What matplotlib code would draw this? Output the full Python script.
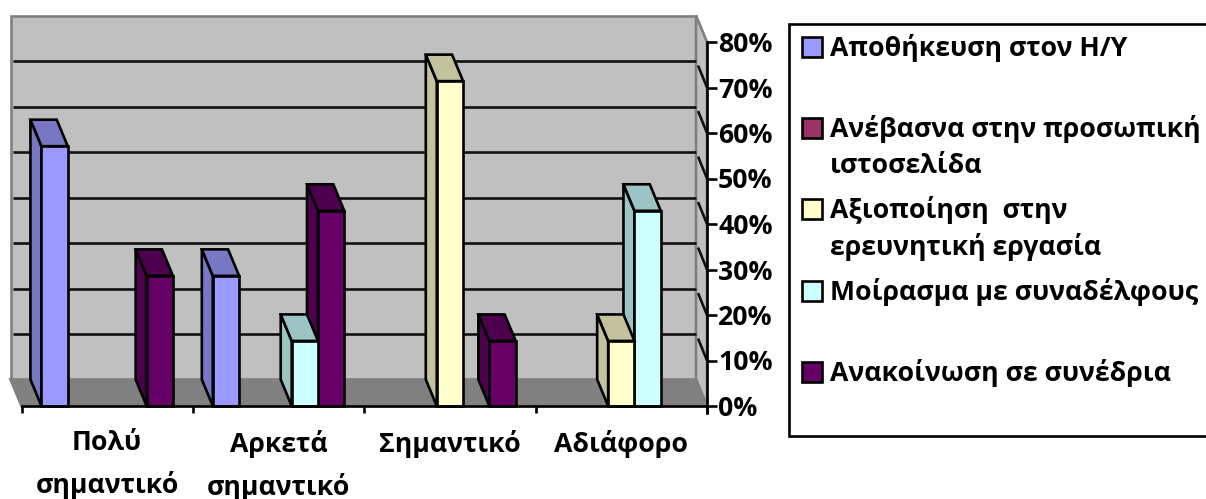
import matplotlib
matplotlib.use("Agg")
import matplotlib.pyplot as plt
from matplotlib.patches import Polygon, Rectangle
from matplotlib.ticker import FuncFormatter

categories = ["Πολύ\nσημαντικό", "Αρκετά\nσημαντικό", "Σημαντικό", "Αδιάφορο"]
series_names = ["Αποθήκευση στον Η/Υ", "Ανέβασνα στην προσωπική\nιστοσελίδα",
                "Αξιοποίηση  στην\nερευνητική εργασία", "Μοίρασμα με συναδέλφους",
                "Ανακοίνωση σε συνέδρια"]
apothikefsi = [57.1, 28.6, 0, 0]
anevasma = [0, 0, 0, 0]
axiopoiisi = [0, 0, 71.4, 14.3]
moirasma = [0, 14.3, 0, 42.9]
anakoinosi = [28.6, 42.9, 14.3, 0]
series_values = [apothikefsi, anevasma, axiopoiisi, moirasma, anakoinosi]
y_ticks = [0, 10, 20, 30, 40, 50, 60, 70, 80]

face_colors = ["#9999FF", "#993366", "#FFFFCC", "#CCFFFF", "#660066"]
dark_colors = ["#7777C4", "#7A2850", "#C2C29E", "#9CC4C4", "#4D004D"]

W, H = 1206, 499
FONT = "Open Sans"
FS = 19.2
LW = 1.9
fig = plt.figure(figsize=(W / 100, H / 100), dpi=100, facecolor="white")

# plot axes: front plane of the 3-D box
x0, x1, y0, y1 = 21.5, 707.0, 406.0, 42.0
ax = fig.add_axes([x0 / W, 1 - y0 / H, (x1 - x0) / W, (y0 - y1) / H])
ax.set_xlim(0, 4)
ax.set_ylim(0, 80)
ax.patch.set_visible(False)
for name, sp in ax.spines.items():
    sp.set_visible(False)

# depth of the box in data units
DX = -11.0 / ((x1 - x0) / 4)
DY = 26.5 / ((y0 - y1) / 80)
top = y_ticks[-1]

def poly(pts, fc, ec, z, lw=LW):
    ax.add_patch(Polygon(pts, closed=True, facecolor=fc, edgecolor=ec, lw=lw,
                         joinstyle="miter", clip_on=False, zorder=z))

GREY = "#808080"
WALL = "#C0C0C0"
# back wall, right wall, floor
poly([(DX, DY), (4 + DX, DY), (4 + DX, top + DY), (DX, top + DY)], WALL, GREY, 1)
poly([(4 + DX, DY), (4, 0), (4, top), (4 + DX, top + DY)], WALL, GREY, 1)
poly([(DX, DY), (4 + DX, DY), (4, 0), (0, 0)], GREY, GREY, 1.2)

# gridlines on back wall and right wall
for v in y_ticks[1:-1]:
    ax.plot([DX + 0.012, 4 + DX], [v + DY, v + DY], color="#111111", lw=LW, clip_on=False,
            zorder=2, solid_capstyle="butt")
    ax.plot([4 + DX + 0.012, 4], [v + DY - 1.0, v], color="#111111", lw=LW, clip_on=False,
            zorder=2, solid_capstyle="butt")

# bars
n_series = len(series_values)
bw = 26.3 / ((x1 - x0) / 4)
gap = (1 - n_series * bw) / 2
for c in range(len(categories)):
    for s in reversed(range(n_series)):
        v = series_values[s][c]
        if v <= 0:
            continue
        l = c + gap + s * bw
        r = l + bw
        z = 3 + c + (n_series - s) * 0.1
        poly([(l, 0), (l + DX, DY), (l + DX, v + DY), (l, v)], dark_colors[s], "black", z)
        poly([(l, v), (l + DX, v + DY), (r + DX, v + DY), (r, v)], dark_colors[s], "black", z)
        poly([(l, 0), (r, 0), (r, v), (l, v)], face_colors[s], "black", z)

# front axis lines
ax.plot([0, 4], [0, 0], color="black", lw=LW, clip_on=False, zorder=20)
ax.plot([4, 4], [0, top], color="black", lw=LW, clip_on=False, zorder=20)

# ticks and tick labels
ax.yaxis.tick_right()
ax.set_yticks(y_ticks)
ax.yaxis.set_major_formatter(FuncFormatter(lambda v, p: f"{int(v)}%"))
ax.tick_params(axis="y", length=7, width=LW, color="black", pad=1)
ax.set_xticks(range(5))
ax.set_xticklabels([])
ax.set_xticks([i + 0.5 for i in range(4)], minor=True)
ax.set_xticklabels(categories, minor=True)
ax.tick_params(axis="x", which="major", length=5, width=LW, color="black")
ax.tick_params(axis="x", which="minor", length=0, pad=17.5)
for t in ax.get_yticklabels() + ax.get_xticklabels(minor=True):
    t.set_fontfamily(FONT)
    t.set_fontweight("bold")
    t.set_fontsize(FS)
    t.set_color("black")
for t in ax.get_xticklabels(minor=True):
    t.set_linespacing(1.66)
# extend y axis below zero at the corner
ax.plot([4, 4], [0, -1.5], color="black", lw=LW, clip_on=False, zorder=20)

# legend, drawn in pixel coordinates of an overlay axes
lg = fig.add_axes([0, 0, 1, 1], facecolor="none")
lg.set_xlim(0, W)
lg.set_ylim(H, 0)
lg.axis("off")
lg.add_patch(Rectangle((788.5, 23.5), 440, 412, facecolor="white", edgecolor="black", lw=LW, clip_on=False))
swatch_y = [47, 128, 209, 291, 372]
line_gap = 37
for name, color, sy in zip(series_names, face_colors, swatch_y):
    lg.add_patch(Rectangle((801.5, sy - 10.5), 20.5, 20.5, facecolor=color, edgecolor="black", lw=LW))
    for k, line in enumerate(name.split("\n")):
        lg.text(830, sy + 1 + k * line_gap, line, fontfamily=FONT, fontweight="bold",
                fontsize=FS, va="center", ha="left", color="black")

fig.savefig("out.png", dpi=100)
